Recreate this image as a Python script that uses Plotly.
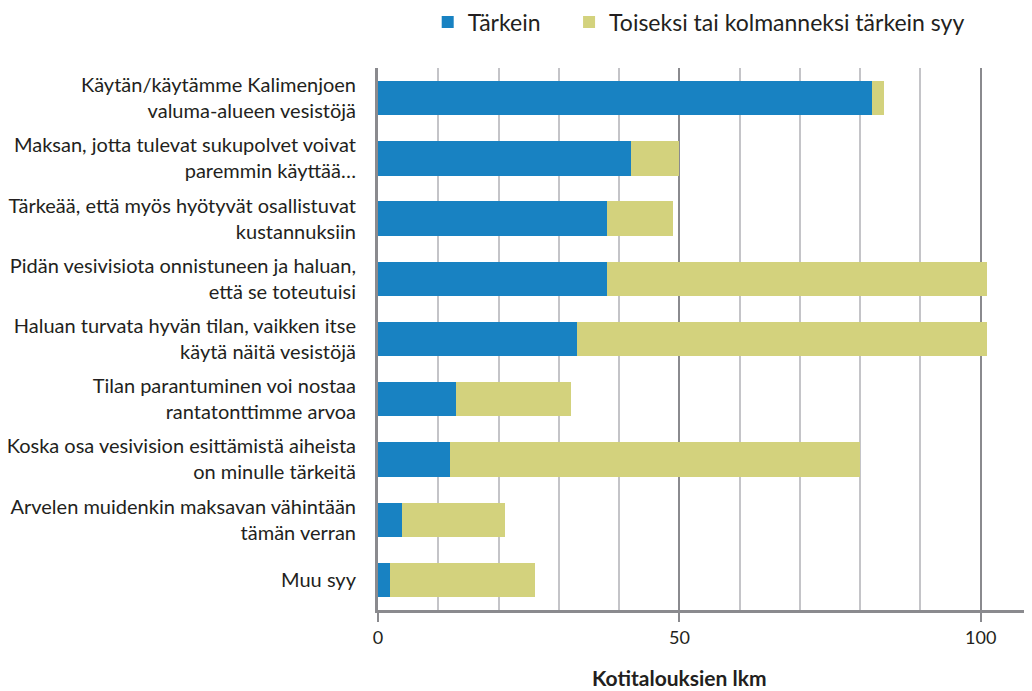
import plotly.graph_objects as go

categories = [
    "Käytän/käytämme Kalimenjoen<br>valuma-alueen vesistöjä",
    "Maksan, jotta tulevat sukupolvet voivat<br>paremmin käyttää…",
    "Tärkeää, että myös hyötyvät osallistuvat<br>kustannuksiin",
    "Pidän vesivisiota onnistuneen ja haluan,<br>että se toteutuisi",
    "Haluan turvata hyvän tilan, vaikken itse<br>käytä näitä vesistöjä",
    "Tilan parantuminen voi nostaa<br>rantatonttimme arvoa",
    "Koska osa vesivision esittämistä aiheista<br>on minulle tärkeitä",
    "Arvelen muidenkin maksavan vähintään<br>tämän verran",
    "Muu syy",
]
tarkein = [82, 42, 38, 38, 33, 13, 12, 4, 2]
toiseksi = [2, 8, 11, 63, 68, 19, 68, 17, 24]
series_names = ["Tärkein", "Toiseksi tai kolmanneksi tärkein syy"]
x_title = "Kotitalouksien lkm"

blue = "#1882C2"
yellow = "#D3D27D"
txt = "#231F20"
pad = "\u00a0" * 4  # extra spacing between legend entries

fig = go.Figure()
fig.add_trace(go.Bar(y=categories, x=tarkein, orientation="h", name=series_names[0] + pad,
                     marker=dict(color=blue, line=dict(width=0))))
fig.add_trace(go.Bar(y=categories, x=toiseksi, orientation="h", name=series_names[1],
                     marker=dict(color=yellow, line=dict(width=0))))

# page body has an 8px margin, so the figure is drawn 8px lower/right
fig.update_layout(
    barmode="stack",
    bargap=0.43,
    width=1024, height=683,
    margin=dict(l=370, r=0, t=60, b=81, autoexpand=False),
    paper_bgcolor="white", plot_bgcolor="white",
    font=dict(family="Lato, Open Sans, sans-serif", size=20, color=txt),
    legend=dict(orientation="h", traceorder="normal", x=0.076, xanchor="left",
                y=1.085, yanchor="middle",
                font=dict(size=23, color=txt), itemsizing="constant"),
    xaxis=dict(range=[0, 108.5], dtick=50, tick0=0, showgrid=True, gridcolor="#8A8A8E", gridwidth=2,
               minor=dict(dtick=10, showgrid=True, gridcolor="#C4C4C8", gridwidth=2),
               showline=True, linecolor="#8A8A8E", linewidth=3,
               ticks="outside", ticklen=9, tickwidth=2, tickcolor="#8A8A8E",
               zeroline=False, tickfont=dict(size=18)),
    yaxis=dict(autorange="reversed", showline=True, linecolor="#8A8A8E", linewidth=3,
               ticks="", ticklabelstandoff=15, tickfont=dict(size=20), showgrid=False),
)
fig.add_annotation(text="<b>" + x_title + "</b>", xref="x", x=50, yref="paper", y=-0.125,
                   showarrow=False, yanchor="middle", font=dict(size=21, color=txt))

fig.write_html("out.html")
